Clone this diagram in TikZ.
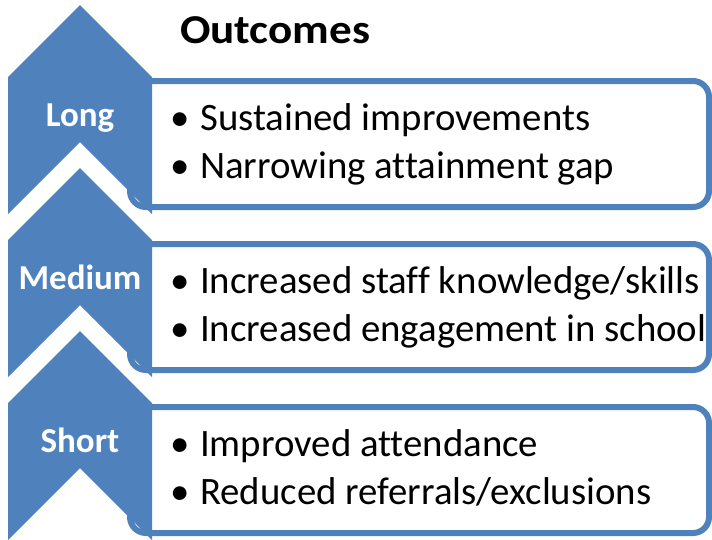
\documentclass[tikz,border=0pt]{standalone}
\usepackage{fontspec}
\setmainfont{Carlito}[RawFeature={-liga}]
\definecolor{obblue}{HTML}{4F81BD}
\begin{document}
\begin{tikzpicture}[x=1pt,y=-1pt,
  chev/.style={fill=obblue,draw=none},
  obox/.style={draw=obblue,line width=6pt,fill=white,rounded corners=16pt},
  lbl/.style={text=white,font=\fontsize{35}{40}\selectfont\bfseries,anchor=base,inner sep=0pt},
  itm/.style={text=black,font=\fontsize{38.8}{46}\selectfont,anchor=base west,inner sep=0pt},
  bul/.style={text=black,font=\fontsize{38.8}{46}\selectfont,anchor=base,inner sep=0pt},
  ttl/.style={text=black,font=\fontsize{41}{48}\selectfont\bfseries,anchor=base west,inner sep=0pt,xscale=1.1}]
\useasboundingbox (0,0) rectangle (712,539);
\fill[white] (0,0) rectangle (712,539);
\node[ttl] (title) at (180,43) {Outcomes};
\foreach \a/\nm/\lab/\ta/\tb in {5/long/Long/{Sustained improvements}/{Narrowing attainment gap},
  168/medium/Medium/{Increased staff knowledge/skills}/{Increased engagement in school},
  331/short/Short/{Improved attendance}/{Reduced referrals/exclusions}}{
  \draw[obox] (130,\a+76) rectangle (709,\a+202);
  \fill[chev] (8,\a+72) -- (80,\a) -- (152,\a+72) -- (152,\a+209) -- (80,\a+137) -- (8,\a+209) -- cycle;
  \node[lbl] (\nm) at (80,\a+121) {\lab};
  \node[bul] (\nm b1) at (180,\a+125) {\textbullet};
  \node[itm] (\nm t1) at (200,\a+125) {\ta};
  \node[bul] (\nm b2) at (180,\a+173) {\textbullet};
  \node[itm] (\nm t2) at (200,\a+173) {\tb};
}
\end{tikzpicture}
\end{document}
